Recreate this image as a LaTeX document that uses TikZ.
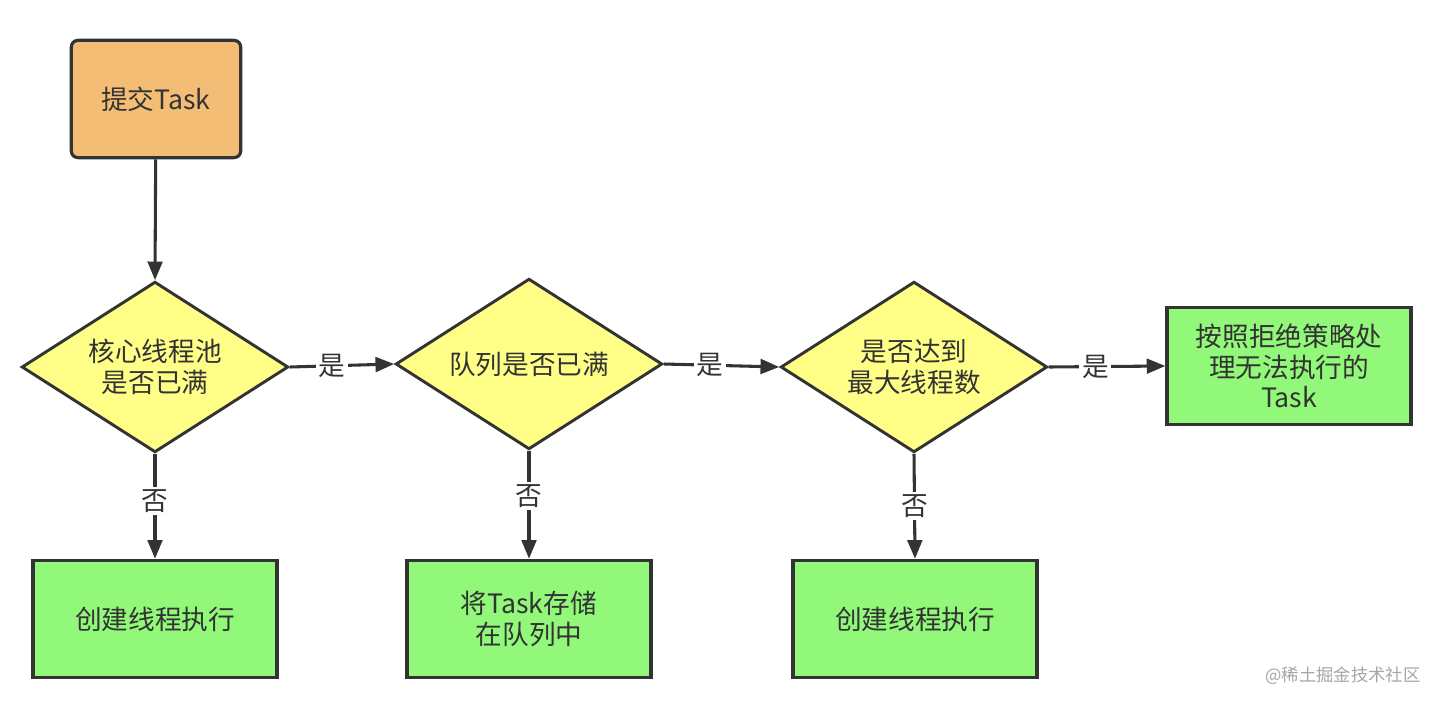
\documentclass[tikz,border=0pt]{standalone}
\usepackage{fontspec}
\setmainfont{Noto Sans CJK SC}
\usetikzlibrary{shapes.geometric,arrows.meta}
\definecolor{taskorange}{RGB}{244,189,118}
\definecolor{askyellow}{RGB}{255,255,136}
\definecolor{dogreen}{RGB}{145,248,122}
\definecolor{edgegray}{RGB}{51,51,51}
\begin{document}
\begin{tikzpicture}[x=0.75pt, y=-0.75pt]
    \tikzstyle{every node} = [align=center, text=edgegray, font=\fontsize{20}{23}\selectfont]
    \tikzstyle{start} = [draw=edgegray, line width=2.4pt, fill=taskorange, rounded corners=5pt, minimum width=127pt, minimum height=88pt]
    \tikzstyle{decision} = [diamond, draw=edgegray, line width=2.2pt, fill=askyellow, inner sep=0pt, aspect=1.56, minimum width=200pt, minimum height=128pt]
    \tikzstyle{action} = [draw=edgegray, line width=2.4pt, fill=dogreen, minimum width=183pt, minimum height=88pt]
    \tikzstyle{flow} = [draw=edgegray, line width=2.3pt, -{Triangle[length=14pt, width=11pt]}]
    \tikzstyle{answer} = [fill=white, inner sep=2pt]
    \useasboundingbox [fill=white] (0,0) rectangle (1444,706);
    % top row
    \node [start] (submit) at (156,99) {提交Task};
    % decisions
    \node [decision] (core) at (155,367) {核心线程池\\是否已满};
    \node [decision] (queue) at (529,364) {队列是否已满};
    \node [decision] (max) at (914,367) {是否达到\\最大线程数};
    \node [action] (reject) at (1289,366) {按照拒绝策略处\\理无法执行的\\Task};
    % results
    \node [action] (create1) at (155,619) {创建线程执行};
    \node [action] (store) at (529,619) {将Task存储\\在队列中};
    \node [action] (create2) at (915,619) {创建线程执行};
    % connectors
    \draw [flow] (submit) -- (core.north);
    \draw [flow] (core.east) -- node [answer, pos=0.4] {是} (queue.west);
    \draw [flow] (queue.east) -- node [answer, pos=0.4] {是} (max.west);
    \draw [flow] (max.east) -- node [answer, pos=0.4] {是} (reject.west);
    \draw [flow] (core.south) -- node [answer, pos=0.45] {否} (create1.north);
    \draw [flow] (queue.south) -- node [answer, pos=0.42] {否} (store.north);
    \draw [flow] (max.south) -- node [answer, pos=0.5] {否} (create2.north);
    \node [text=gray!70, font=\fontsize{13}{15}\selectfont] (mark) at (1343,676) {@稀土掘金技术社区};
\end{tikzpicture}
\end{document}
